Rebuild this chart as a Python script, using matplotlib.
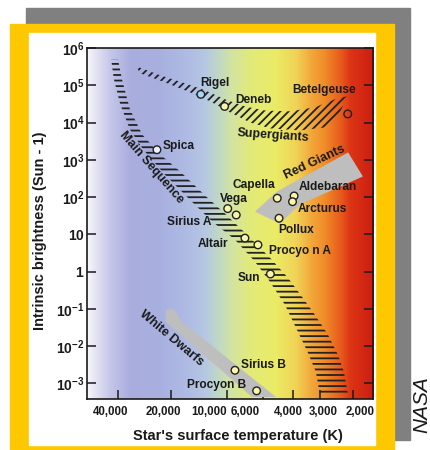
import numpy as np
import matplotlib
matplotlib.use('Agg')
import matplotlib.pyplot as plt
from matplotlib.colors import LinearSegmentedColormap
from matplotlib.patches import Rectangle
from matplotlib.ticker import FixedLocator, FixedFormatter, NullFormatter, NullLocator

plt.rcParams['font.family'] = ['Liberation Sans', 'DejaVu Sans']
plt.rcParams['font.weight'] = 'bold'
plt.rcParams['axes.labelweight'] = 'bold'
plt.rcParams['mathtext.fontset'] = 'custom'
plt.rcParams['mathtext.rm'] = 'Liberation Sans'
plt.rcParams['mathtext.bf'] = 'Liberation Sans:bold'
plt.rcParams['hatch.linewidth'] = 1.3

# ---- data ----
star_names = ['Rigel', 'Deneb', 'Betelgeuse', 'Spica', 'Vega', 'Sirius A', 'Altair',
              'Procyo n A', 'Sun', 'Capella', 'Aldebaran', 'Arcturus', 'Pollux',
              'Sirius B', 'Procyon B']
star_temp = [13800, 10300, 2140, 24000, 9900, 8780, 7770, 6470, 5440, 4950, 3940, 4010,
             4830, 8940, 6590]
star_lum = [5.7e4, 2.7e4, 1.7e4, 1860, 49, 33, 7.9, 5.2, 0.86, 93, 107, 75, 27,
            2.24e-3, 6.3e-4]

# main sequence band (left edge and right edge, top to bottom)
ms_left_temp = [44000, 42400, 39000, 34300, 28800, 21600, 15800, 12000, 8940, 6740,
                5470, 4450, 3820, 3400, 3130, 3000]
ms_left_lum = [5e5, 1.45e5, 3.1e4, 6500, 1900, 400, 85, 22, 7.2, 1.84, 0.53, 0.128,
               0.027, 0.0065, 0.002, 4.8e-4]
ms_right_temp = [40200, 38100, 34300, 29200, 23000, 17800, 13100, 10250, 7450, 5470,
                 4270, 3625, 3165, 2720, 2410, 2240, 2130]
ms_right_lum = [5e5, 1.45e5, 2.26e4, 4800, 1390, 485, 110, 36, 9.2, 2.35, 0.68, 0.21,
                0.069, 0.02, 0.0058, 0.002, 4.8e-4]

# supergiant band (upper edge, lower edge)
sg_top_temp = [31600, 23000, 16800, 13100, 10250, 7760, 5860, 4150, 3165, 2500, 2160]
sg_top_lum = [3.24e5, 1.86e5, 1.13e5, 7.3e4, 4.2e4, 2.7e4, 2.1e4, 2.0e4, 2.56e4, 4.2e4, 5.06e4]
sg_bot_temp = [30000, 21600, 15800, 12300, 9590, 7220, 5470, 3710, 2825, 2440]
sg_bot_lum = [2.1e5, 1.2e5, 6.5e4, 3.7e4, 1.87e4, 1.0e4, 6970, 6150, 7400, 1.22e4]

rg_temp = [6740, 4970, 2130, 1780, 3710, 4770]
rg_lum = [40.6, 141, 1575, 356, 63, 19.3]

wd_temp = [21300, 19200, 17400, 5030, 7030, 21300]
wd_lum = [0.094, 0.0998, 0.0446, 4.28e-4, 4.28e-4, 0.0446]

band_names = ['Main Sequence', 'Supergiants', 'Red Giants', 'White Dwarfs']
band_temp = [25800, 5250, 3190, 19760]
band_lum = [621, 4510, 847, 0.0162]

tick_temps = [40000, 20000, 10000, 6000, 4000, 3000, 2000]
tick_labels = ['40,000', '20,000', '10,000', '6,000', '4,000', '3,000', '2,000']
label_temps = [44000, 22100, 12410, 7710, 4270, 2890, 1845]  # where the labels sit
lum_exps = [-3, -2, -1, 0, 1, 2, 3, 4, 5, 6]

# ---- styling ----
label_offsets = [(10.4, 7.9), (21, 4.3), (-16.7, 17.1), (15.3, 2.7), (4.3, 7.0),
                 (-33.7, -4.8), (-22.8, -4.1), (30, -4.5), (-15.5, -2.7), (-16.6, 9.5),
                 (24.5, 6.1), (21.2, -5.2), (12.1, -8.5), (20.2, 4.0), (-29.2, 4.5)]
star_fill = ['#a6d8f2', '#fbf5a8', 'none', '#eef0fa'] + ['#fbf5a8'] * 11
band_rot = [-49, -4, 25, -40]

# the original temperature axis is hand-drawn, not a clean log scale:
# warp_pos is the distance of each temperature from the cool (right) edge
warp_temps = [1574, 2000, 3000, 4000, 6000, 10000, 20000, 40000, 60760]
warp_pos = [0.0, 0.0688, 0.1851, 0.2805, 0.3832, 0.51, 0.7066, 0.8896, 1.0]
_xp = np.log10(warp_temps)


def _interp_ext(x, xp, fp):
    x = np.atleast_1d(np.asarray(x, float))
    y = np.interp(x, xp, fp)
    lo = x < xp[0]
    hi = x > xp[-1]
    y[lo] = fp[0] + (x[lo] - xp[0]) * (fp[1] - fp[0]) / (xp[1] - xp[0])
    y[hi] = fp[-1] + (x[hi] - xp[-1]) * (fp[-1] - fp[-2]) / (xp[-1] - xp[-2])
    return y


def temp_fwd(t):
    with np.errstate(divide='ignore', invalid='ignore'):
        return _interp_ext(np.log10(np.clip(t, 1e-9, None)), _xp, warp_pos)


def temp_inv(u):
    return 10 ** _interp_ext(u, warp_pos, _xp)


fig = plt.figure(figsize=(4.31, 4.5), dpi=100)
W, H = 431.0, 450.0
fig.patches.append(Rectangle((26 / W, 1 - 440 / H), 384 / W, 432 / H,
                             transform=fig.transFigure, color='#808080', zorder=-3))
fig.patches.append(Rectangle((10 / W, 0), 384 / W, 426 / H,
                             transform=fig.transFigure, color='#fdc800', zorder=-2))
fig.patches.append(Rectangle((29 / W, 1 - 445 / H), 346 / W, 412 / H,
                             transform=fig.transFigure, color='white', zorder=-1))

pos = [86.7 / W, 1 - 399 / H, 286.3 / W, 351 / H]

# colour gradient behind the plot
grad = LinearSegmentedColormap.from_list('hr', [
    (0.0, '#f7f7fb'), (0.029, '#e4e4f2'), (0.081, '#c4c6e8'), (0.151, '#a9addd'),
    (0.256, '#a8b0e0'), (0.361, '#b0bde4'), (0.413, '#b6c8e2'), (0.459, '#c0d8c4'),
    (0.507, '#d4e4a0'), (0.57, '#e2ea78'), (0.658, '#ebeb66'), (0.728, '#f0d458'),
    (0.78, '#f2aa3c'), (0.832, '#f08a28'), (0.885, '#e85c1c'), (0.92, '#dc3416'),
    (1.0, '#cc1e10')])
bg = fig.add_axes(pos, zorder=0)
bg.imshow(np.linspace(0, 1, 512)[None, :], cmap=grad, aspect='auto',
          extent=[0, 1, 0, 1])
bg.axis('off')

ax = fig.add_axes(pos, zorder=1)
ax.patch.set_alpha(0)
ax.set_xscale('function', functions=(temp_fwd, temp_inv))
ax.set_yscale('log')
ax.set_xlim(60760, 1574)
ax.set_ylim(3.8e-4, 1.0e6)

ink = '#1a1a1a'

# bands
ax.fill(ms_left_temp + ms_right_temp[::-1], ms_left_lum + ms_right_lum[::-1],
        facecolor='none', edgecolor='#222222', hatch='---', linewidth=0, zorder=2)
ax.fill(sg_top_temp + sg_bot_temp[::-1], sg_top_lum + sg_bot_lum[::-1],
        facecolor='none', edgecolor='#222222', hatch='////', linewidth=0, zorder=2)
ax.fill(rg_temp, rg_lum, facecolor='#bebebe', edgecolor='none', zorder=2)
ax.fill(wd_temp, wd_lum, facecolor='#bebebe', edgecolor='none', zorder=2)

for name, t, l, r in zip(band_names, band_temp, band_lum, band_rot):
    ax.text(t, l, name, rotation=r, ha='center', va='center', fontsize=9,
            color=ink, rotation_mode='anchor', zorder=5)

# stars
ax.scatter(star_temp, star_lum, s=30, c=star_fill, edgecolors='#222222',
           linewidths=1.0, zorder=4)
for name, t, l, off in zip(star_names, star_temp, star_lum, label_offsets):
    ax.annotate(name, (t, l), xytext=off, textcoords='offset points',
                ha='center', va='center', fontsize=8.6, color=ink, zorder=5)

# axes
ax.xaxis.set_major_locator(FixedLocator(tick_temps))
ax.xaxis.set_major_formatter(NullFormatter())
ax.xaxis.set_minor_locator(FixedLocator(label_temps))
ax.xaxis.set_minor_formatter(FixedFormatter(tick_labels))
ax.tick_params(axis='x', which='major', direction='in', length=6.5, width=1.1,
               top=False, color=ink)
ax.tick_params(axis='x', which='minor', length=0, pad=5, labelsize=8.3,
               labelcolor=ink, top=False)

ax.yaxis.set_major_locator(FixedLocator([10.0 ** e for e in lum_exps]))
ylabels = []
for e in lum_exps:
    if e == 0:
        ylabels.append(r'$\mathbf{1}$')
    elif e == 1:
        ylabels.append(r'$\mathbf{10}$')
    else:
        ylabels.append(r'$\mathbf{10^{%d}}$' % e)
ax.yaxis.set_major_formatter(FixedFormatter(ylabels))
ax.yaxis.set_minor_locator(NullLocator())
ax.tick_params(axis='y', which='major', direction='in', length=6.5, width=1.1,
               right=True, pad=1.5, labelsize=10, labelcolor=ink, color=ink)

for sp in ax.spines.values():
    sp.set_linewidth(1.2)
    sp.set_color(ink)

ax.set_xlabel("Star's surface temperature (K)", fontsize=10.5, color=ink,
              va='center', fontweight='bold')
ax.xaxis.set_label_coords(0.5295, -0.1054)
ax.set_ylabel('Intrinsic brightness (Sun - 1)', fontsize=10.5, color=ink,
              va='center', fontweight='bold')
ax.yaxis.set_label_coords(-0.163, 0.479)

fig.text(421.7 / W, 1 - 405 / H, 'NASA', rotation=90, ha='center', va='center',
         fontsize=15, style='italic', weight='normal', color=ink)

fig.savefig('out.png', dpi=100)
